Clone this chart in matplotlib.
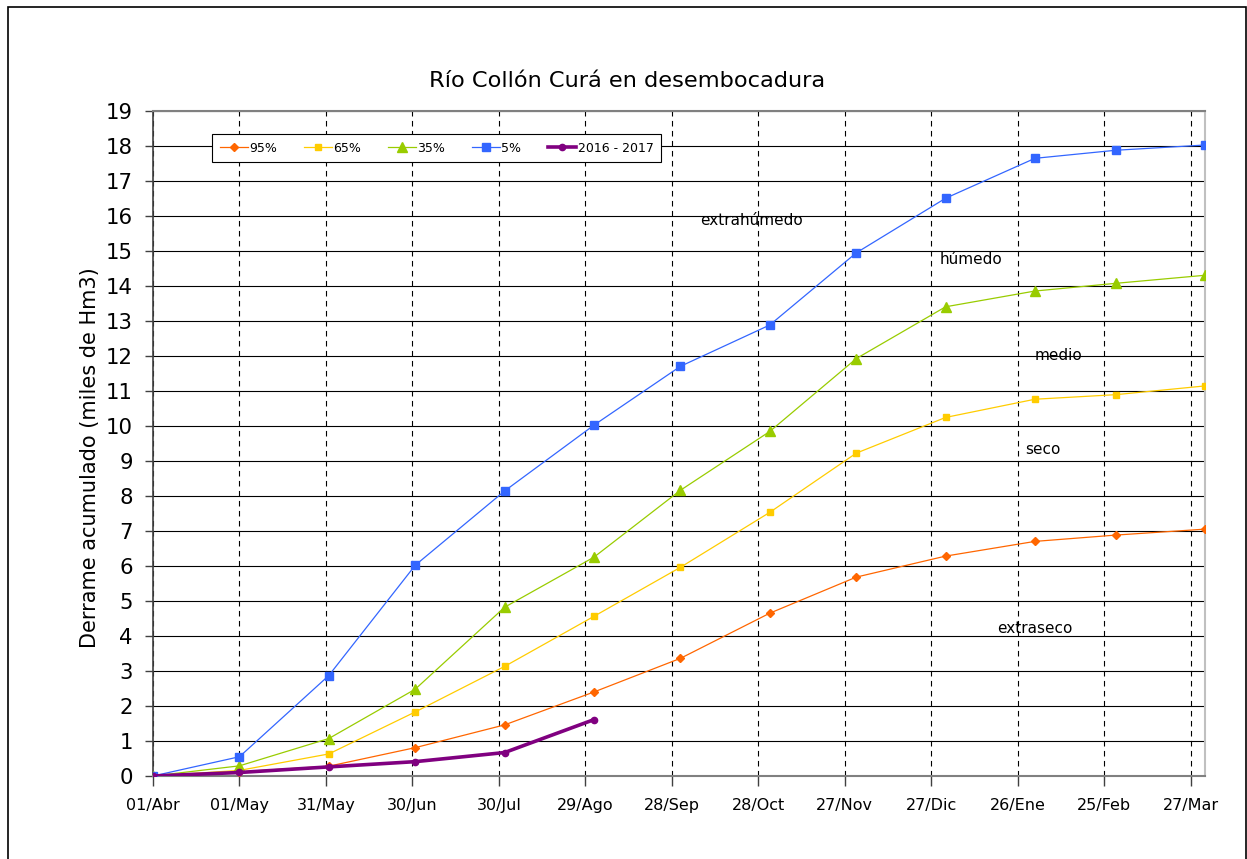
import numpy as np
import matplotlib
matplotlib.use("Agg")
import matplotlib.pyplot as plt
from matplotlib.patches import Rectangle

# Fechas de los datos (primer dia de cada mes, año hidrologico 2016-2017)
fechas = np.array(['2016-04-01', '2016-05-01', '2016-06-01', '2016-07-01', '2016-08-01',
                   '2016-09-01', '2016-10-01', '2016-11-01', '2016-12-01', '2017-01-01',
                   '2017-02-01', '2017-03-01', '2017-04-01'], dtype='datetime64[D]')

# Derrame acumulado (miles de Hm3) por probabilidad de excedencia
p95 = [0.0, 0.12, 0.28, 0.81, 1.46, 2.40, 3.36, 4.65, 5.68, 6.28, 6.70, 6.88, 7.05]
p65 = [0.0, 0.16, 0.63, 1.83, 3.13, 4.56, 5.96, 7.53, 9.22, 10.24, 10.76, 10.89, 11.14]
p35 = [0.0, 0.29, 1.07, 2.48, 4.82, 6.25, 8.16, 9.84, 11.92, 13.40, 13.85, 14.07, 14.30]
p05 = [0.0, 0.55, 2.87, 6.02, 8.14, 10.02, 11.70, 12.88, 14.94, 16.50, 17.64, 17.87, 18.02]

# Temporada en curso
fechas_actual = fechas[:6]
actual = [0.0, 0.10, 0.26, 0.41, 0.67, 1.61]

# Etiquetas del eje x (cada 30 dias desde 01/Abr)
etiquetas_x = ['01/Abr', '01/May', '31/May', '30/Jun', '30/Jul', '29/Ago', '28/Sep',
               '28/Oct', '27/Nov', '27/Dic', '26/Ene', '25/Feb', '27/Mar']

inicio = fechas[0]
dias = (fechas - inicio).astype(int)
dias_actual = (fechas_actual - inicio).astype(int)
ticks_x = np.arange(len(etiquetas_x)) * 30

W, H = 1247, 859
fig = plt.figure(figsize=(W / 100, H / 100), dpi=100)
ax = fig.add_axes([153 / W, 1 - 776 / H, (1205 - 153) / W, (776 - 110.7) / H])

ax.plot(dias, p95, color='#FF6600', lw=0.9, marker='D', ms=4, label='95%', zorder=3)
ax.plot(dias, p65, color='#FFCC00', lw=0.9, marker='s', ms=4.5, label='65%', zorder=3)
ax.plot(dias, p35, color='#99CC00', lw=0.9, marker='^', ms=7, label='35%', zorder=3)
ax.plot(dias, p05, color='#3366FF', lw=0.9, marker='s', ms=6, label='5%', zorder=3)
ax.plot(dias_actual, actual, color='#800080', lw=2.6, marker='o', ms=4.5,
        label='2016 - 2017', zorder=4)

ax.set_xlim(0, dias[-1])
ax.set_ylim(0, 19)
ax.set_yticks(range(0, 20))
ax.set_xticks(ticks_x)
ax.set_xticklabels(etiquetas_x)

ax.tick_params(axis='y', direction='out', length=6, width=1, color='#404040',
               labelsize=15.3, pad=8.5)
ax.tick_params(axis='x', direction='out', length=7, width=1, color='#404040',
               labelsize=11.5, pad=9)

# Grilla: horizontal continua, vertical punteada
ax.grid(axis='y', color='black', lw=0.8, ls='-', zorder=1)
ax.grid(axis='x', color='black', lw=0.8, ls=(0, (5, 4)), zorder=1)

ax.spines['top'].set_color('#808080')
ax.spines['top'].set_linewidth(1.5)
ax.spines['right'].set_color('#c0c0c0')
ax.spines['right'].set_linewidth(1.5)
ax.spines['left'].set_color('#404040')
ax.spines['left'].set_linewidth(1.2)
ax.spines['bottom'].set_color('#808080')
ax.spines['bottom'].set_linewidth(1.5)

leg = ax.legend(loc='upper left', bbox_to_anchor=((212 - 153) / 1052, (776 - 134) / 665.3),
                borderaxespad=0, ncol=5, fontsize=9, handlelength=2.25,
                handletextpad=0.1, columnspacing=2.15, borderpad=0.6,
                fancybox=False, framealpha=1, edgecolor='black', numpoints=1)
leg.get_frame().set_linewidth(0.8)

# Rotulos de cada franja
ax.text(190, 15.86, 'extrahúmedo', fontsize=11, va='center', ha='left')
ax.text(273, 14.75, 'húmedo', fontsize=11, va='center', ha='left')
ax.text(306, 12.01, 'medio', fontsize=11, va='center', ha='left')
ax.text(302.5, 9.33, 'seco', fontsize=11, va='center', ha='left')
ax.text(293, 4.22, 'extraseco', fontsize=11, va='center', ha='left')

fig.text(627.5 / W, 1 - 81 / H, 'Río Collón Curá en desembocadura', fontsize=16.2,
         ha='center', va='center')
fig.text(90 / W, 1 - 458 / H, 'Derrame acumulado (miles de Hm3)', fontsize=15,
         rotation=90, ha='center', va='center')

# Marco exterior
fig.patches.append(Rectangle((8 / W, -0.02), (1245.5 - 8) / W, 1.02 - 7 / H,
                             transform=fig.transFigure, fill=False,
                             edgecolor='black', lw=1.2))

fig.savefig('out.png', dpi=100)
